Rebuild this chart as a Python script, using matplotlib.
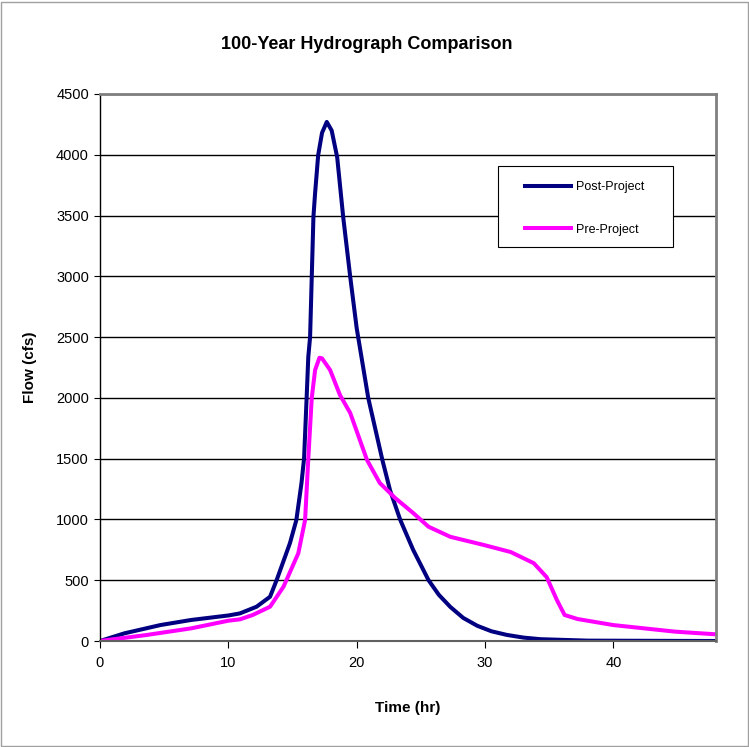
import matplotlib
matplotlib.use("Agg")
import matplotlib.pyplot as plt
from matplotlib.patches import Rectangle

plt.rcParams["font.family"] = ["Liberation Sans", "DejaVu Sans"]

# hydrograph values
post_time = [0, 1.9, 4.7, 7.1, 10.0, 10.9, 12.2, 13.25, 13.76, 14.8, 15.3, 15.7,
             15.9, 16.1, 16.23, 16.37, 16.5, 16.63, 16.76, 17.0, 17.3, 17.67,
             18.05, 18.48, 18.95, 19.5, 20.0, 20.9, 22.0, 22.6, 23.4, 24.4, 25.6,
             26.4, 27.3, 28.3, 29.4, 30.5, 31.7, 33.0, 34.3, 38, 48]
post_flow = [0, 63, 131, 173, 210, 227, 282, 364, 500, 805, 995, 1300,
             1500, 2000, 2338, 2500, 2996, 3490, 3684, 3997, 4180, 4270,
             4200, 3980, 3487, 2993, 2574, 2000, 1490, 1240, 995, 750, 500,
             380, 280, 190, 125, 80, 50, 28, 15, 3, 0]

pre_time = [0, 3.6, 7.1, 10.0, 10.9, 11.9, 13.25, 14.3, 15.45, 15.98, 16.23, 16.5,
            16.76, 17.1, 17.3, 17.93, 18.7, 19.5, 20.8, 21.8, 23.0, 24.4, 25.6,
            27.3, 29.9, 32.0, 33.8, 34.8, 35.6, 36.2, 37.2, 40, 44.8, 48]
pre_flow = [0, 49, 104, 167, 178, 214, 282, 447, 721, 995, 1500, 2000,
            2229, 2330, 2325, 2229, 2023, 1875, 1490, 1300, 1176, 1053, 940,
            857, 790, 732, 640, 526, 337, 214, 181, 131, 77, 55]

x_ticks = [0, 10, 20, 30, 40]
y_ticks = list(range(0, 4501, 500))

fig = plt.figure(figsize=(7.49, 7.47), dpi=100)
ax = fig.add_axes([0.1335, 0.1419, 0.8225, 0.7323])

ax.yaxis.grid(True, color="black", linewidth=1)
ax.set_axisbelow(True)

ax.plot(post_time, post_flow, color="#000080", linewidth=2.9,
        solid_joinstyle="round", label="Post-Project")
ax.plot(pre_time, pre_flow, color="#FF00FF", linewidth=2.9,
        solid_joinstyle="round", label="Pre-Project")

ax.set_xlim(0, 48)
ax.set_ylim(0, 4500)
ax.set_xticks(x_ticks)
ax.set_yticks(y_ticks)
ax.tick_params(axis="both", direction="out", labelsize=10.5, colors="black")
ax.tick_params(axis="x", length=5, pad=6)
ax.tick_params(axis="y", length=4, pad=4)

for side in ["top", "right"]:
    ax.spines[side].set_color("#808080")
    ax.spines[side].set_linewidth(2)
ax.spines["bottom"].set_color("#606060")
ax.spines["bottom"].set_linewidth(1.5)
ax.spines["left"].set_color("black")
ax.spines["left"].set_linewidth(1)

ax.set_xlabel("Time (hr)", fontsize=11, fontweight="bold", labelpad=22)
ax.set_ylabel("Flow (cfs)", fontsize=11, fontweight="bold", labelpad=14)
fig.text(0.489, 0.94, "100-Year Hydrograph Comparison", ha="center", va="center",
         fontsize=13, fontweight="bold")

# legend box drawn separately so the padding matches the original
ax.add_patch(Rectangle((0.646, 0.720), 0.284, 0.148, transform=ax.transAxes,
                       facecolor="white", edgecolor="black", linewidth=0.8, zorder=4))
ax.legend(loc="upper left", bbox_to_anchor=(0.690, 0.841), frameon=False,
          fontsize=9, handlelength=3.7, handletextpad=0.4, labelspacing=2.46,
          borderpad=0, borderaxespad=0).set_zorder(5)

fig.patches.append(Rectangle((0.0015, 0.0015), 0.997, 0.996, transform=fig.transFigure,
                             fill=False, edgecolor="#a0a0a0", linewidth=1))

fig.savefig("out.png", dpi=100)
